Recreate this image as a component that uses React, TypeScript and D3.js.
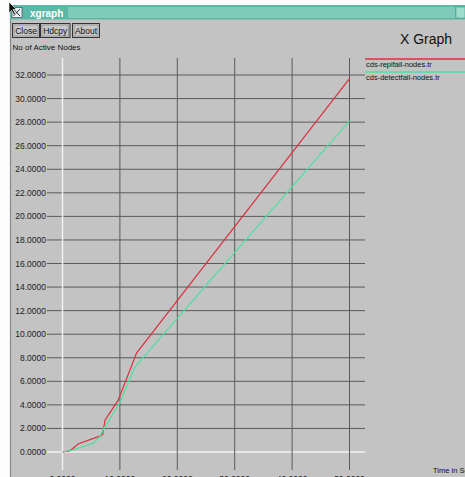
import * as d3 from "d3"
import { useEffect } from "react"

// values
const xTicks = [0, 10, 20, 30, 40, 50]
const yTicks = [0, 2, 4, 6, 8, 10, 12, 14, 16, 18, 20, 22, 24, 26, 28, 30, 32]

const replfailX = [0, 1.3, 2.8, 6.5, 7.0, 7.4, 9.7, 12.9, 50]
const replfailY = [0, 0.1, 0.7, 1.35, 1.5, 2.7, 4.4, 8.4, 31.7]

const detectfailX = [0, 1.6, 4.5, 5.4, 6.5, 7.1, 10, 12.6, 50]
const detectfailY = [0, 0.15, 0.6, 0.75, 1.3, 1.9, 4.2, 7.2, 28.1]

const seriesNames = ["cds-replfail-nodes.tr", "cds-detectfail-nodes.tr"]
const seriesColors = ["#d8323e", "#4fe0a2"]

const W = 465
const H = 477
const BG = "#c3c3c3"
const FONT = "'Liberation Sans', Arial, sans-serif"

const App = () => {
  useEffect(() => {
    document.body.style.margin = "0"
  }, [])

  const x = d3.scaleLinear().domain([0, 50]).range([62.5, 349.5])
  const y = d3.scaleLinear().domain([0, 32]).range([452, 75])

  const toPts = (xs: number[], ys: number[]) => xs.map((v, i) => [v, ys[i]] as [number, number])
  const series = [toPts(replfailX, replfailY), toPts(detectfailX, detectfailY)]

  const line = d3
    .line<[number, number]>()
    .x((d) => x(d[0]))
    .y((d) => y(d[1]))

  const fmt = d3.format(".4f")

  const button = (label: string, x0: number, w: number) => (
    <g key={label}>
      <rect x={x0} y={23.5} width={w} height={14} fill="#c8c8c8" stroke="#333" strokeWidth={1} />
      <rect x={x0 + 1.5} y={25} width={w - 3} height={11} fill="none" stroke="#777" strokeWidth={0.6} />
      <text x={x0 + w / 2} y={34} fontSize={8.5} textAnchor="middle" fill="#111" fontFamily={FONT}>
        {label}
      </text>
    </g>
  )

  return (
    <svg width={W} height={H} style={{ display: "block" }}>
      <rect width={W} height={H} fill="#fdfdfd" />
      {/* window body */}
      <rect x={10} y={5} width={W - 10} height={H - 5} fill={BG} />
      <line x1={10.5} y1={5} x2={10.5} y2={H} stroke="#8a8a8a" strokeWidth={1.2} />

      {/* title bar */}
      <rect x={10} y={5} width={W - 10} height={14.5} fill="#5cb8a6" />
      <rect x={68} y={7} width={387} height={11} fill="#7fcab9" />
      <rect x={456} y={7} width={9} height={11} fill="#9fdccc" stroke="#4a9f8f" strokeWidth={0.6} />
      <rect x={12} y={7.5} width={10} height={10} fill="#e8f2ee" stroke="#335" strokeWidth={0.6} />
      <path d="M13.5,9 L20,16 M20,9 L13.5,16" stroke="#335" strokeWidth={1} />
      <text x={30} y={16.5} fontSize={10} fill="#fff" fontWeight="bold" fontFamily={FONT}>
        xgraph
      </text>
      {/* mouse cursor */}
      <path d="M9,2 L9,13 L11.5,10.5 L14,15 L15.5,14 L13,9.5 L16.5,9.5 Z" fill="#111" stroke="#fff" strokeWidth={0.6} />

      {button("Close", 12.5, 27)}
      {button("Hdcpy", 40.5, 29.5)}
      {button("About", 72.5, 27)}

      <text x={400} y={44} fontSize={14} fill="#111" fontFamily={FONT}>
        X Graph
      </text>
      <text x={12.5} y={50} fontSize={8} fill="#111" fontFamily={FONT}>
        No of Active Nodes
      </text>

      {/* horizontal grid + y labels */}
      {yTicks.map((t) => (
        <g key={"y" + t}>
          <line
            x1={47}
            x2={365}
            y1={y(t)}
            y2={y(t)}
            stroke={t === 0 ? "#f2f2f2" : "#5a5a5a"}
            strokeWidth={t === 0 ? 1.4 : 1}
          />
          <text x={46} y={y(t) + 3} fontSize={8.5} textAnchor="end" fill="#222" fontFamily={FONT}>
            {fmt(t)}
          </text>
        </g>
      ))}

      {/* vertical grid + x labels */}
      {xTicks.map((t) => (
        <g key={"x" + t}>
          <line
            x1={x(t)}
            x2={x(t)}
            y1={58}
            y2={470}
            stroke={t === 0 ? "#f2f2f2" : "#5a5a5a"}
            strokeWidth={t === 0 ? 1.4 : 1}
          />
          <text x={x(t)} y={482} fontSize={8.5} textAnchor="middle" fill="#222" fontFamily={FONT}>
            {fmt(t)}
          </text>
        </g>
      ))}

      {/* series */}
      {series.map((pts, i) => (
        <path key={seriesNames[i]} d={line(pts) ?? ""} fill="none" stroke={seriesColors[i]} strokeWidth={1.2} />
      ))}

      {/* legend */}
      {seriesNames.map((name, i) => (
        <g key={"leg" + name}>
          <line x1={365} x2={W} y1={59 + i * 13} y2={59 + i * 13} stroke={seriesColors[i]} strokeWidth={1.3} />
          <text x={366} y={67 + i * 13} fontSize={7.5} fill="#111" fontFamily={FONT}>
            {name}
          </text>
        </g>
      ))}

      <text x={433} y={473} fontSize={7.5} fill="#111" fontFamily={FONT}>
        Time in Seconds
      </text>
    </svg>
  )
}

export default App
